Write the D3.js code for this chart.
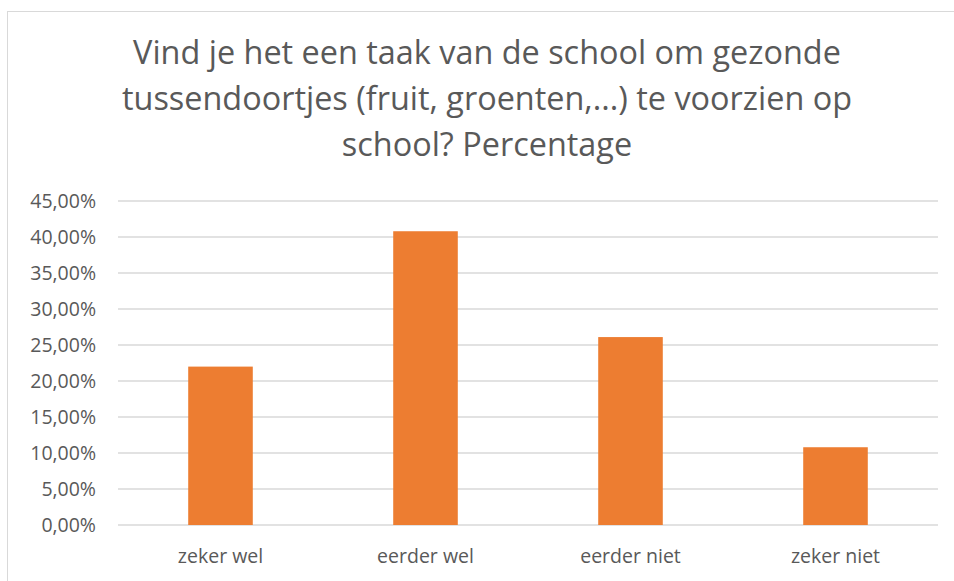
<html>
<head>
<script src="https://cdnjs.cloudflare.com/ajax/libs/d3/7.8.5/d3.min.js"></script>
<style>
  body { margin: 0; background: #fff; }
  text { font-family: "Open Sans", "Noto Sans", sans-serif; fill: #595959; }
</style>
</head>
<body>
<script>
// chart data
var categories = ["zeker wel", "eerder wel", "eerder niet", "zeker niet"];
var percentages = [22.0, 40.8, 26.1, 10.8];
var tickValues = [0, 5, 10, 15, 20, 25, 30, 35, 40, 45];
var titleLines = [
  "Vind je het een taak van de school om gezonde",
  "tussendoortjes (fruit, groenten,...) te voorzien op",
  "school? Percentage"
];

var width = 954, height = 581;
var margin = {top: 201, right: 16, bottom: 56, left: 118};

var svg = d3.select("body").append("svg")
  .attr("width", width)
  .attr("height", height);

// outer chart border (runs off the right and bottom edges)
svg.append("rect")
  .attr("x", 7.5).attr("y", 11.5)
  .attr("width", 960).attr("height", 600)
  .attr("fill", "none")
  .attr("stroke", "#d9d9d9")
  .attr("stroke-width", 1);

// title, three centered lines
var title = svg.append("g").attr("class", "title");
title.selectAll("text")
  .data(titleLines)
  .enter().append("text")
  .attr("x", 487)
  .attr("y", function(d, i) { return 64 + i * 46; })
  .attr("text-anchor", "middle")
  .style("font-size", "30px")
  .text(function(d) { return d; });

// shrink title font so the first line is as wide as in the original
var firstLen = title.select("text").node().getComputedTextLength();
var titleSize = 30 * 708 / firstLen;
title.selectAll("text").style("font-size", titleSize + "px");

var x = d3.scaleBand()
  .domain(categories)
  .range([margin.left, width - margin.right])
  .paddingInner(0.685)
  .paddingOuter(0.3425);

var y = d3.scaleLinear()
  .domain([0, 45])
  .range([height - margin.bottom, margin.top]);

// gridlines
svg.append("g")
  .attr("class", "grid")
  .selectAll("line")
  .data(tickValues)
  .enter().append("line")
  .attr("x1", margin.left)
  .attr("x2", width - margin.right)
  .attr("y1", function(d) { return y(d); })
  .attr("y2", function(d) { return y(d); })
  .attr("stroke", "#d9d9d9")
  .attr("stroke-width", 1.3);

// y axis labels
var yAxis = svg.append("g")
  .attr("transform", "translate(" + (margin.left - 22) + ",0)")
  .call(d3.axisLeft(y)
    .tickValues(tickValues)
    .tickSize(0)
    .tickPadding(0)
    .tickFormat(function(d) { return d3.format(".2f")(d).replace(".", ",") + "%"; }));
yAxis.select(".domain").remove();
yAxis.selectAll("text")
  .style("font-size", "19.5px")
  .style("font-family", "'Open Sans', sans-serif")
  .attr("fill", "#595959");

// bars
svg.append("g")
  .selectAll("rect")
  .data(percentages)
  .enter().append("rect")
  .attr("x", function(d, i) { return x(categories[i]); })
  .attr("y", function(d) { return y(d); })
  .attr("width", x.bandwidth())
  .attr("height", function(d) { return y(0) - y(d); })
  .attr("fill", "#ed7d31");

// x axis labels
var xAxis = svg.append("g")
  .attr("transform", "translate(0," + (height - margin.bottom) + ")")
  .call(d3.axisBottom(x).tickSize(0).tickPadding(24));
xAxis.select(".domain").remove();
xAxis.selectAll("text")
  .style("font-size", "19.5px")
  .style("font-family", "'Open Sans', sans-serif")
  .attr("fill", "#595959");
</script>
</body>
</html>
